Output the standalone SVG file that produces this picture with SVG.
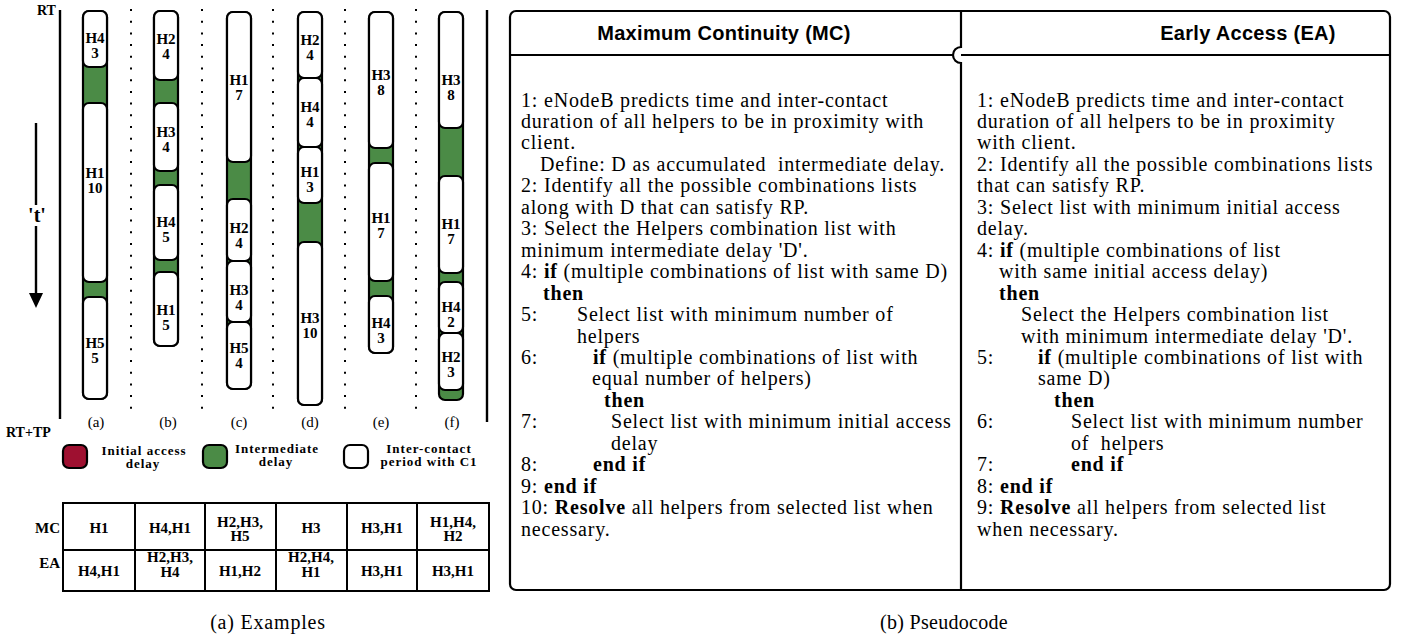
<svg xmlns="http://www.w3.org/2000/svg" width="1401" height="641" viewBox="0 0 1401 641">
  <style>
    .lbl { font-family: "Liberation Serif", serif; font-weight: bold; font-size: 15px; text-anchor: middle; }
    .seg { fill: #fff; stroke: #000; stroke-width: 2.2; }
    .gap { fill: #4b8b46; stroke: #000; stroke-width: 2.2; }
    .dots { stroke: #000; stroke-width: 2; stroke-dasharray: 2 9.7; fill: none; }
    .ax { stroke: #000; stroke-width: 2.4; fill: none; }
    .tag { font-family: "Liberation Serif", serif; font-size: 15px; text-anchor: middle; }
    .axl { font-family: "Liberation Serif", serif; font-weight: bold; font-size: 14px; }
    .leg { font-family: "Liberation Serif", serif; font-weight: bold; font-size: 13px; letter-spacing: 1px; text-anchor: middle; }
    .grid { fill: none; stroke: #000; stroke-width: 2; }
    .cell { font-family: "Liberation Serif", serif; font-weight: bold; font-size: 15px; text-anchor: middle; }
    .rowh { font-family: "Liberation Serif", serif; font-weight: bold; font-size: 15px; text-anchor: end; }
    .code { font-family: "Liberation Serif", serif; font-size: 20px; letter-spacing: 0.8px; }
    .kw { font-weight: bold; }
    .hdr { font-family: "Liberation Sans", Arial, sans-serif; font-weight: bold; font-size: 20px; letter-spacing: 0.3px; text-anchor: middle; }
    .caption { font-family: "Liberation Serif", serif; font-size: 20px; text-anchor: middle; }
    .frame { fill: #fff; stroke: #000; stroke-width: 2.2; }
  </style>

  <rect width="1401" height="641" fill="#fff"/>

  <!-- time axes and separators -->
  <g id="connectors">
    <line class="ax" x1="60" y1="10" x2="60" y2="419"/>
    <line class="ax" x1="487" y1="10" x2="487" y2="422"/>
    <line class="ax" x1="36" y1="123" x2="36" y2="205"/>
    <line class="ax" x1="36" y1="226" x2="36" y2="294"/>
    <polygon points="29,293 43,293 36,308" fill="#000"/>
    <line class="dots" x1="131" y1="9" x2="131" y2="416"/>
    <line class="dots" x1="202" y1="9" x2="202" y2="416"/>
    <line class="dots" x1="273" y1="9" x2="273" y2="416"/>
    <line class="dots" x1="345" y1="9" x2="345" y2="416"/>
    <line class="dots" x1="416" y1="9" x2="416" y2="416"/>
  </g>

  <g id="axis-labels">
    <text class="axl" x="37" y="15">RT</text>
    <text class="axl" x="6" y="437">RT+TP</text>
    <text x="37" y="222" font-family="Liberation Serif, serif" font-weight="bold" font-size="20" text-anchor="middle">'t'</text>
  </g>

  <!-- timeline (a) -->
  <g id="col-a">
    <rect class="gap" x="83" y="11" width="24" height="388" rx="6"/>
    <rect class="seg" x="83" y="11" width="24" height="56" rx="6"/>
    <rect class="seg" x="83" y="103" width="24" height="179" rx="6"/>
    <rect class="seg" x="83" y="297" width="24" height="102" rx="6"/>
    <text class="lbl" x="95" y="43">H4</text><text class="lbl" x="95" y="58">3</text>
    <text class="lbl" x="95" y="178">H1</text><text class="lbl" x="95" y="193">10</text>
    <text class="lbl" x="95" y="348">H5</text><text class="lbl" x="95" y="363">5</text>
    <text class="tag" x="96" y="427">(a)</text>
  </g>

  <!-- timeline (b) -->
  <g id="col-b">
    <rect class="gap" x="154" y="11" width="24" height="335" rx="6"/>
    <rect class="seg" x="154" y="11" width="24" height="69" rx="6"/>
    <rect class="seg" x="154" y="103" width="24" height="68" rx="6"/>
    <rect class="seg" x="154" y="185" width="24" height="75" rx="6"/>
    <rect class="seg" x="154" y="272" width="24" height="74" rx="6"/>
    <text class="lbl" x="166" y="44">H2</text><text class="lbl" x="166" y="59">4</text>
    <text class="lbl" x="166" y="137">H3</text><text class="lbl" x="166" y="152">4</text>
    <text class="lbl" x="166" y="227">H4</text><text class="lbl" x="166" y="242">5</text>
    <text class="lbl" x="166" y="315">H1</text><text class="lbl" x="166" y="330">5</text>
    <text class="tag" x="168" y="427">(b)</text>
  </g>

  <!-- timeline (c) -->
  <g id="col-c">
    <rect class="gap" x="227" y="12" width="24" height="377" rx="6"/>
    <rect class="seg" x="227" y="12" width="24" height="150" rx="6"/>
    <rect class="seg" x="227" y="199" width="24" height="62" rx="6"/>
    <rect class="seg" x="227" y="261" width="24" height="61" rx="6"/>
    <rect class="seg" x="227" y="322" width="24" height="67" rx="6"/>
    <text class="lbl" x="239" y="85">H1</text><text class="lbl" x="239" y="100">7</text>
    <text class="lbl" x="239" y="233">H2</text><text class="lbl" x="239" y="248">4</text>
    <text class="lbl" x="239" y="295">H3</text><text class="lbl" x="239" y="310">4</text>
    <text class="lbl" x="239" y="353">H5</text><text class="lbl" x="239" y="368">4</text>
    <text class="tag" x="239" y="427">(c)</text>
  </g>

  <!-- timeline (d) -->
  <g id="col-d">
    <rect class="gap" x="298" y="12" width="24" height="393" rx="6"/>
    <rect class="seg" x="298" y="12" width="24" height="66" rx="6"/>
    <rect class="seg" x="298" y="78" width="24" height="69" rx="6"/>
    <rect class="seg" x="298" y="147" width="24" height="56" rx="6"/>
    <rect class="seg" x="298" y="242" width="24" height="163" rx="6"/>
    <text class="lbl" x="310" y="45">H2</text><text class="lbl" x="310" y="60">4</text>
    <text class="lbl" x="310" y="112">H4</text><text class="lbl" x="310" y="127">4</text>
    <text class="lbl" x="310" y="177">H1</text><text class="lbl" x="310" y="192">3</text>
    <text class="lbl" x="310" y="323">H3</text><text class="lbl" x="310" y="338">10</text>
    <text class="tag" x="310" y="427">(d)</text>
  </g>

  <!-- timeline (e) -->
  <g id="col-e">
    <rect class="gap" x="369" y="12" width="24" height="341" rx="6"/>
    <rect class="seg" x="369" y="12" width="24" height="136" rx="6"/>
    <rect class="seg" x="369" y="163" width="24" height="118" rx="6"/>
    <rect class="seg" x="369" y="296" width="24" height="57" rx="6"/>
    <text class="lbl" x="381" y="80">H3</text><text class="lbl" x="381" y="95">8</text>
    <text class="lbl" x="381" y="223">H1</text><text class="lbl" x="381" y="238">7</text>
    <text class="lbl" x="381" y="328">H4</text><text class="lbl" x="381" y="343">3</text>
    <text class="tag" x="381" y="427">(e)</text>
  </g>

  <!-- timeline (f) -->
  <g id="col-f">
    <rect class="gap" x="439" y="12" width="24" height="388" rx="6"/>
    <rect class="seg" x="439" y="12" width="24" height="116" rx="6"/>
    <rect class="seg" x="439" y="176" width="24" height="97" rx="6"/>
    <rect class="seg" x="439" y="282" width="24" height="51" rx="6"/>
    <rect class="seg" x="439" y="333" width="24" height="57" rx="6"/>
    <text class="lbl" x="451" y="85">H3</text><text class="lbl" x="451" y="100">8</text>
    <text class="lbl" x="451" y="229">H1</text><text class="lbl" x="451" y="244">7</text>
    <text class="lbl" x="451" y="312">H4</text><text class="lbl" x="451" y="327">2</text>
    <text class="lbl" x="451" y="362">H2</text><text class="lbl" x="451" y="377">3</text>
    <text class="tag" x="452" y="427">(f)</text>
  </g>

  <!-- legend -->
  <g id="legend">
    <rect x="63" y="445" width="24" height="23" rx="6" fill="#9e1030" stroke="#000" stroke-width="2.2"/>
    <text class="leg" x="144" y="455">Initial access</text>
    <text class="leg" x="143" y="468">delay</text>
    <rect x="203" y="445" width="24" height="23" rx="6" fill="#4b8b46" stroke="#000" stroke-width="2.2"/>
    <text class="leg" x="277" y="453">Intermediate</text>
    <text class="leg" x="276" y="466">delay</text>
    <rect x="344" y="445" width="24" height="23" rx="6" fill="#fff" stroke="#000" stroke-width="2.2"/>
    <text class="leg" x="429" y="453">Inter-contact</text>
    <text class="leg" x="429" y="466">period with C1</text>
  </g>

  <!-- selected helper lists -->
  <g id="table">
    <rect class="grid" x="63" y="503" width="426" height="88"/>
    <line class="grid" x1="63" y1="550" x2="489" y2="550"/>
    <line class="grid" x1="135" y1="503" x2="135" y2="591"/>
    <line class="grid" x1="205" y1="503" x2="205" y2="591"/>
    <line class="grid" x1="276" y1="503" x2="276" y2="591"/>
    <line class="grid" x1="347" y1="503" x2="347" y2="591"/>
    <line class="grid" x1="417" y1="503" x2="417" y2="591"/>
    <text class="rowh" x="60" y="533">MC</text>
    <text class="rowh" x="60" y="568">EA</text>
    <text class="cell" x="99" y="533">H1</text>
    <text class="cell" x="170" y="533">H4,H1</text>
    <text class="cell" x="240" y="527">H2,H3,</text><text class="cell" x="240" y="541">H5</text>
    <text class="cell" x="311" y="533">H3</text>
    <text class="cell" x="382" y="533">H3,H1</text>
    <text class="cell" x="453" y="527">H1,H4,</text><text class="cell" x="453" y="541">H2</text>
    <text class="cell" x="99" y="576">H4,H1</text>
    <text class="cell" x="170" y="562">H2,H3,</text><text class="cell" x="170" y="577">H4</text>
    <text class="cell" x="240" y="576">H1,H2</text>
    <text class="cell" x="311" y="562">H2,H4,</text><text class="cell" x="311" y="577">H1</text>
    <text class="cell" x="382" y="576">H3,H1</text>
    <text class="cell" x="453" y="576">H3,H1</text>
  </g>

  <text class="caption" x="268" y="629" letter-spacing="0.8">(a) Examples</text>

  <!-- pseudocode frame -->
  <g id="frame">
    <rect class="frame" x="510" y="11" width="880" height="579" rx="6"/>
    <line x1="510" y1="55" x2="953" y2="55" stroke="#000" stroke-width="2.2"/>
    <line x1="961" y1="55" x2="1390" y2="55" stroke="#000" stroke-width="2.2"/>
    <path d="M961,11 V47 A8,8 0 0 0 961,63 V590" fill="none" stroke="#000" stroke-width="2.2"/>
  </g>

  <!-- Maximum Continuity column -->
  <g id="panel-mc" class="code">
    <text class="hdr" x="724" y="40">Maximum Continuity (MC)</text>
    <text x="521" y="106.5">1: eNodeB predicts time and inter-contact</text>
    <text x="521" y="128">duration of all helpers to be in proximity with</text>
    <text x="521" y="149.4">client.</text>
    <text x="540" y="170.9" xml:space="preserve">Define: D as accumulated  intermediate delay.</text>
    <text x="521" y="192.3">2: Identify all the possible combinations lists</text>
    <text x="521" y="213.8">along with D that can satisfy RP.</text>
    <text x="521" y="235.2">3: Select the Helpers combination list with</text>
    <text x="521" y="256.7">minimum intermediate delay 'D'.</text>
    <text x="521" y="278.1">4: <tspan class="kw">if</tspan> (multiple combinations of list with same D)</text>
    <text x="543" y="299.6" class="kw">then</text>
    <text x="521" y="321">5:</text><text x="577" y="321">Select list with minimum number of</text>
    <text x="577" y="342.5">helpers</text>
    <text x="521" y="363.9">6:</text><text x="593" y="363.9"><tspan class="kw">if</tspan> (multiple combinations of list with</text>
    <text x="592" y="385.4">equal number of helpers)</text>
    <text x="604" y="406.8" class="kw">then</text>
    <text x="521" y="428.3">7:</text><text x="611" y="428.3">Select list with minimum initial access</text>
    <text x="611" y="449.7">delay</text>
    <text x="521" y="471.2">8:</text><text x="593" y="471.2" class="kw">end if</text>
    <text x="521" y="492.6">9: <tspan class="kw">end if</tspan></text>
    <text x="521" y="514.1">10: <tspan class="kw">Resolve</tspan> all helpers from selected list when</text>
    <text x="521" y="535.5">necessary.</text>
  </g>

  <!-- Early Access column -->
  <g id="panel-ea" class="code">
    <text class="hdr" x="1248" y="40">Early Access (EA)</text>
    <text x="977" y="106.5">1: eNodeB predicts time and inter-contact</text>
    <text x="977" y="128">duration of all helpers to be in proximity</text>
    <text x="977" y="149.4">with client.</text>
    <text x="977" y="170.9">2: Identify all the possible combinations lists</text>
    <text x="977" y="192.3">that can satisfy RP.</text>
    <text x="977" y="213.8">3: Select list with minimum initial access</text>
    <text x="977" y="235.2">delay.</text>
    <text x="977" y="256.7">4: <tspan class="kw">if</tspan> (multiple combinations of list</text>
    <text x="999" y="278.1">with same initial access delay)</text>
    <text x="999" y="299.6" class="kw">then</text>
    <text x="1021" y="321">Select the Helpers combination list</text>
    <text x="1021" y="342.5">with minimum intermediate delay 'D'.</text>
    <text x="977" y="363.9">5:</text><text x="1038" y="363.9"><tspan class="kw">if</tspan> (multiple combinations of list with</text>
    <text x="1038" y="385.4">same D)</text>
    <text x="1054" y="406.8" class="kw">then</text>
    <text x="977" y="428.3">6:</text><text x="1071" y="428.3">Select list with minimum number</text>
    <text x="1071" y="449.7" xml:space="preserve">of  helpers</text>
    <text x="977" y="471.2">7:</text><text x="1071" y="471.2" class="kw">end if</text>
    <text x="977" y="492.6">8: <tspan class="kw">end if</tspan></text>
    <text x="977" y="514.1">9: <tspan class="kw">Resolve</tspan> all helpers from selected list</text>
    <text x="977" y="535.5">when necessary.</text>
  </g>

  <text class="caption" x="944" y="629" letter-spacing="0.3">(b) Pseudocode</text>
</svg>
